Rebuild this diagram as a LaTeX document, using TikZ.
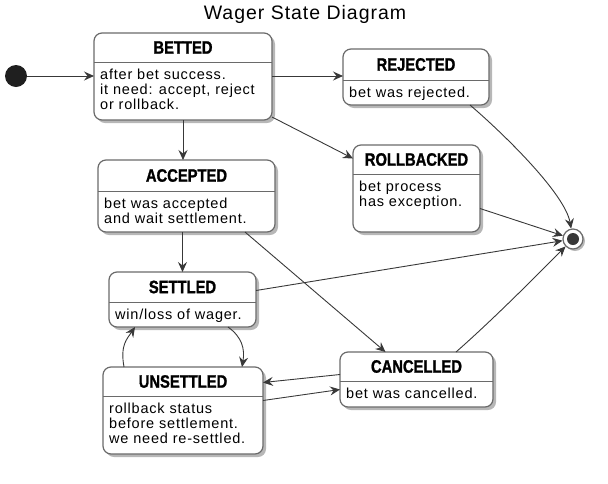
\documentclass[tikz,border=0pt]{standalone}
\usepackage{fontspec}
\setmainfont{Liberation Sans}
\newfontfamily\bodyfont[LetterSpace=5.5]{Liberation Sans}
\newfontfamily\titlefont[LetterSpace=5]{Liberation Sans}
\newfontfamily\headfont[FakeStretch=0.82,FakeBold=1.2]{Liberation Sans Bold}
\usetikzlibrary{arrows.meta,shadows}

\definecolor{linegray}{HTML}{383838}
\definecolor{boxgray}{HTML}{6A6A6A}

% left, top, right, bottom, divider in pixels
\newcommand{\wstate}[8]{%
  \node[statebox, minimum width={(#4-#2)*1pt}, minimum height={(#5-#3)*1pt}]
    (#1) at ({(#2+#4)/2},{(#3+#5)/2}) {};
  \draw[divider] (#2,#6) -- (#4,#6);
  \node[statehead] (#1-head) at ({(#2+#4)/2},{(#3+#6)/2}) {#7};
  \node[statebody] (#1-body) at ({#2+6},{#6+7}) {#8};
}

\begin{document}
\begin{tikzpicture}[x=1pt,y=-1pt,
    statebox/.style={rectangle,rounded corners=8pt,draw=boxgray,line width=1.2pt,
      fill=white,inner sep=0pt,outer sep=0pt,
      drop shadow={shadow xshift=3pt,shadow yshift=-3pt,opacity=0.4,fill=black!70}},
    divider/.style={draw=boxgray,line width=1pt},
    statehead/.style={font=\headfont\fontsize{18}{18}\selectfont,inner sep=0pt},
    statebody/.style={anchor=north west,align=left,inner sep=0pt,
      font=\bodyfont\fontsize{14.5}{15}\selectfont},
    trans/.style={draw=linegray,line width=0.9pt,
      -{Stealth[length=10pt,width=9pt,inset=3.5pt]}}]
\useasboundingbox (0,0) rectangle (608,483);

\node[font=\titlefont\fontsize{19.5}{20}\selectfont] (title) at (305,14) {Wager State Diagram};

% start and end
\node[circle,fill=black!88,minimum size=22pt,inner sep=0pt] (start) at (16,76) {};
\node[circle,draw=boxgray,line width=1.2pt,fill=white,minimum size=20pt,inner sep=0pt,
  drop shadow={shadow xshift=2pt,shadow yshift=-2pt,opacity=0.4,fill=black!70}] (end) at (573,239) {};
\node[circle,fill=black!78,minimum size=12pt,inner sep=0pt] (end-dot) at (end) {};

% states
\wstate{betted}{94}{33}{272}{120}{62}{BETTED}{after bet success.\\it need: accept, reject\\or rollback.}
\wstate{rejected}{343}{49}{489}{105}{80}{REJECTED}{bet was rejected.}
\wstate{rollbacked}{353}{145}{480}{232}{174}{ROLLBACKED}{bet process\\has exception.}
\wstate{accepted}{98}{160}{275}{232}{191}{ACCEPTED}{bet was accepted\\and wait settlement.}
\wstate{settled}{109}{272}{256}{327}{302}{SETTLED}{win/loss of wager.}
\wstate{unsettled}{103}{367}{263}{454}{396}{UNSETTLED}{rollback status\\before settlement.\\we need re-settled.}
\wstate{cancelled}{340}{352}{493}{407}{381}{CANCELLED}{bet was cancelled.}

% transitions
\draw[trans] (start) -- (start -| betted.west);
\draw[trans] (betted.east |- start) -- (rejected.west |- start);
\draw[trans] ([yshift=3pt]betted.south east) -- ([yshift=30pt]rollbacked.west);
\draw[trans] (betted.south) -- (betted.south |- accepted.north);
\draw[trans] (accepted.south -| settled.north) -- (settled.north);
\draw[trans] ([xshift=-30pt]accepted.south east) -- ([xshift=-31pt]cancelled.north);
\draw[trans] ([yshift=9pt]settled.east) -- (end);
\draw[trans] ([yshift=-20pt]rollbacked.east) -- (end);
\draw[trans] ([xshift=-19pt]rejected.south east) .. controls +(35,30) and +(-8,-45) .. (end);
\draw[trans] ([xshift=-37pt]cancelled.north east) .. controls +(40,-35) and +(-25,25) .. (end);
\draw[trans] ([xshift=-28pt]settled.south east) .. controls +(14,10) and +(3,-18) .. ([xshift=-21pt]unsettled.north east);
\draw[trans] ([xshift=21pt]unsettled.north west) .. controls +(-4,-22) and +(-8,12) .. ([xshift=26pt]settled.south west);
\draw[trans] ([yshift=5pt]cancelled.west) -- ([yshift=28pt]unsettled.east);
\draw[trans] ([yshift=10pt]unsettled.east) -- ([yshift=-10pt]cancelled.west);
\end{tikzpicture}
\end{document}
